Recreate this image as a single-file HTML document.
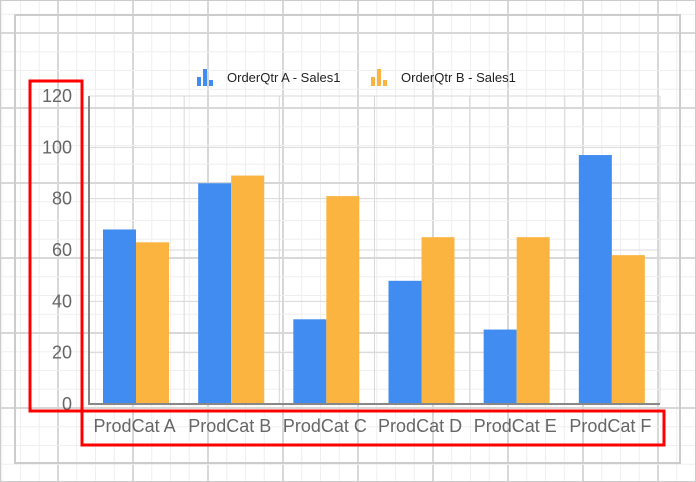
<!DOCTYPE html>
<html><head><meta charset="utf-8"><style>
html,body{margin:0;width:696px;height:482px;overflow:hidden;background:#fff;font-family:"Liberation Sans",sans-serif}
svg{display:block}
</style></head><body>
<svg id="c" width="696" height="482" xmlns="http://www.w3.org/2000/svg"></svg>
<script>
const categories=["ProdCat A","ProdCat B","ProdCat C","ProdCat D","ProdCat E","ProdCat F"];
const seriesA=[68,86,33,48,29,97];
const seriesB=[63,89,81,65,65,58];
const yTicks=[0,20,40,60,80,100,120];
const seriesNames=["OrderQtr A - Sales1","OrderQtr B - Sales1"];
const colors=["#418cf0","#fcb441"];
const svg=document.getElementById('c');
const NS="http://www.w3.org/2000/svg";
function el(t,a,p){const e=document.createElementNS(NS,t);for(const k in a)e.setAttribute(k,a[k]);(p||svg).appendChild(e);return e;}
const bg=el('g',{});


for(let i=0;i<40;i++){const x=1.75+i*18.75;el('line',{x1:x,y1:0,x2:x,y2:482,stroke:i%4==3?'#d8d8d8':'#efefef','stroke-width':i%4==3?2:1},bg);}
for(let i=0;i<28;i++){const y=14.25+i*18.75;el('line',{x1:0,y1:y,x2:696,y2:y,stroke:(i%4==1)?'#d8d8d8':'#efefef','stroke-width':(i%4==1)?2:1},bg);}
el('rect',{x:0.5,y:0.5,width:695,height:481,fill:'none',stroke:'#ccc'},bg);
el('rect',{x:15,y:15,width:665,height:448,fill:'none',stroke:'#ccc','stroke-width':2},bg);
const x0=89,x1=660,yb=404,yt=96;
const ys=v=>yb-(v/120)*(yb-yt);
const cw=(x1-x0)/categories.length;
const grid=el('g',{});


yTicks.forEach(v=>{el('line',{x1:x0,y1:ys(v),x2:x1,y2:ys(v),stroke:'#d8d8d8'},grid);});
for(let i=0;i<=categories.length;i++){el('line',{x1:x0+i*cw,y1:yt,x2:x0+i*cw,y2:yb,stroke:'#d8d8d8'},grid);}
categories.forEach((c,i)=>{
 const bx=x0+i*cw+14, bw=33;
 const a=el('rect',{x:bx,y:ys(seriesA[i]),width:bw,height:yb-ys(seriesA[i]),fill:colors[0]});
 
 
 const b=el('rect',{x:bx+bw,y:ys(seriesB[i]),width:bw,height:yb-ys(seriesB[i]),fill:colors[1]});
 
 
 const t=el('text',{x:x0+i*cw+cw/2-2,y:432,'text-anchor':'middle','font-size':18,fill:'#666'});
 t.textContent=c;
 
 
});
el('line',{x1:x0,y1:yt,x2:x0,y2:yb+1,stroke:'#888','stroke-width':2});
el('line',{x1:x0,y1:yb,x2:x1,y2:yb,stroke:'#888','stroke-width':2});
yTicks.forEach(v=>{const t=el('text',{x:72,y:ys(v)+6,'text-anchor':'end','font-size':18,fill:'#666'});t.textContent=v;
 
 });
const lx=[197,371];
seriesNames.forEach((n,i)=>{
 const g=el('g',{});
 
 
 el('rect',{x:lx[i],y:77,width:4,height:9,fill:colors[i]},g);
 el('rect',{x:lx[i]+6,y:69,width:4,height:17,fill:colors[i]},g);
 el('rect',{x:lx[i]+12,y:80,width:4,height:6,fill:colors[i]},g);
 const t=el('text',{x:lx[i]+30,y:82,'font-size':13,fill:'#222'},g);t.textContent=n;
});
const r1=el('rect',{x:30,y:81,width:52,height:330,fill:'none',stroke:'#f00','stroke-width':3});


const r2=el('rect',{x:82,y:411,width:582,height:34,fill:'none',stroke:'#f00','stroke-width':3});


</script>
</body></html>
